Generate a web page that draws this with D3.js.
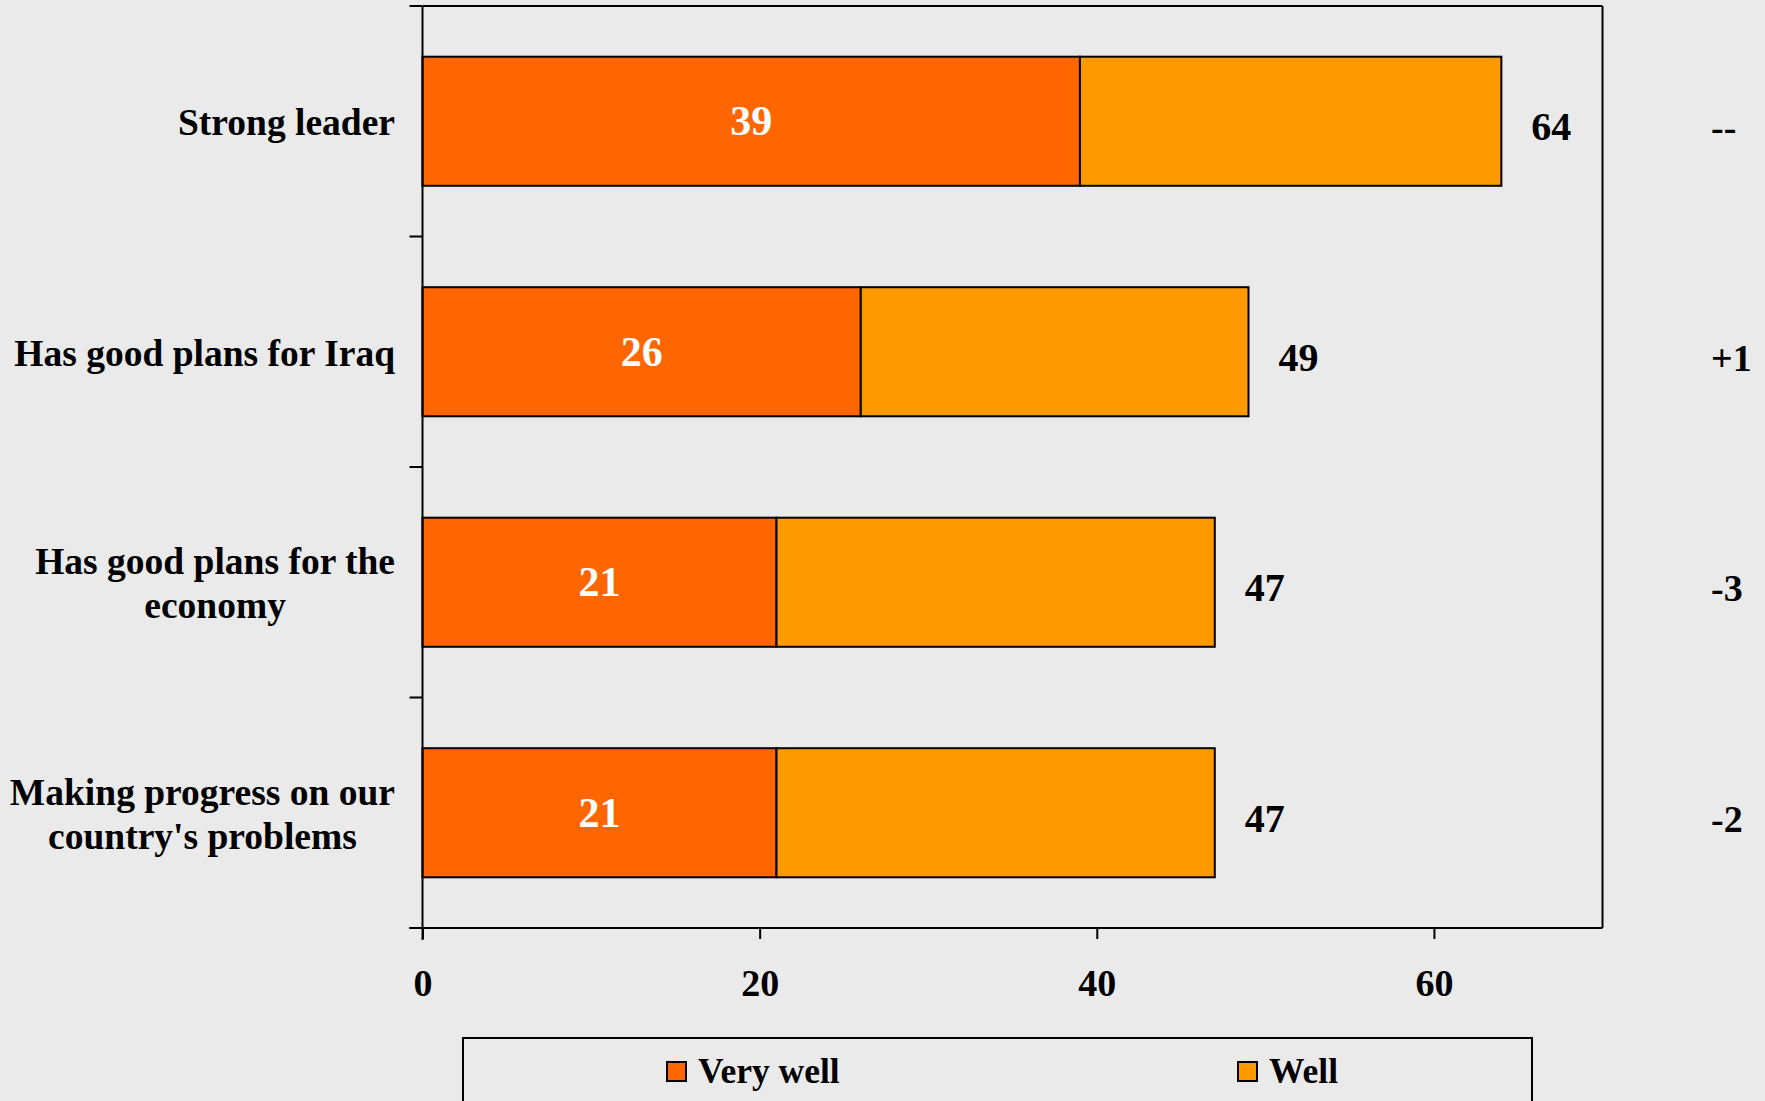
<!DOCTYPE html>
<html>
<head>
<meta charset="utf-8">
<script src="https://cdn.jsdelivr.net/npm/d3@7"></script>
<style>
  html, body { margin: 0; padding: 0; background: #EAEAEA; overflow: hidden; }
  svg { display: block; }
  text { font-family: "Liberation Serif", "Times New Roman", serif; font-weight: bold; }
</style>
</head>
<body>
<svg id="chart" width="1765" height="1101"></svg>
<script>
// ---- data ----
const categories = [
  ["Strong leader"],
  ["Has good plans for Iraq"],
  ["Has good plans for the", "economy"],
  ["Making progress on our", "country's problems"]
];
const veryWell = [39, 26, 21, 21];
const totals = [64, 49, 47, 47];
const changes = ["--", "+1", "-3", "-2"];
const seriesNames = ["Very well", "Well"];
const seriesColors = ["#FF6600", "#FF9900"];
const xTicks = [0, 20, 40, 60];

// ---- layout ----
(function () {
const svg = d3.select("#chart");
const pL = 422.5, pR = 1602.5, pT = 6, pB = 928;

const x = d3.scaleLinear().domain([0, 70]).range([pL, pR]);
const y = d3.scaleBand().domain(d3.range(categories.length)).range([pT, pB]).paddingInner(0.44).paddingOuter(0.22);
const yBand = d3.scaleBand().domain(d3.range(categories.length)).range([pT, pB]);

const g = svg.append("g");

// plot frame (top and right)
g.append("line").attr("x1", pL).attr("x2", pR).attr("y1", pT).attr("y2", pT)
  .attr("stroke", "#000").attr("stroke-width", 2);
g.append("line").attr("x1", pR).attr("x2", pR).attr("y1", pT).attr("y2", pB)
  .attr("stroke", "#000").attr("stroke-width", 2);

// bars
const rows = categories.map((c, i) => ({ i, vw: veryWell[i], total: totals[i] }));
g.selectAll("rect.vw").data(rows).join("rect").attr("class", "vw")
  .attr("x", x(0)).attr("y", d => y(d.i))
  .attr("width", d => x(d.vw) - x(0)).attr("height", y.bandwidth())
  .attr("fill", seriesColors[0]).attr("stroke", "#000").attr("stroke-width", 2);
g.selectAll("rect.w").data(rows).join("rect").attr("class", "w")
  .attr("x", d => x(d.vw)).attr("y", d => y(d.i))
  .attr("width", d => x(d.total) - x(d.vw)).attr("height", y.bandwidth())
  .attr("fill", seriesColors[1]).attr("stroke", "#000").attr("stroke-width", 2);

// inside labels
g.selectAll("text.in").data(rows).join("text").attr("class", "in")
  .attr("x", d => (x(0) + x(d.vw)) / 2)
  .attr("y", d => y(d.i) + y.bandwidth() / 2 + 14)
  .attr("text-anchor", "middle").attr("fill", "#fff").attr("font-size", 42)
  .text(d => d.vw);

// total labels
g.selectAll("text.tot").data(rows).join("text").attr("class", "tot")
  .attr("x", d => x(d.total) + 30)
  .attr("y", d => y(d.i) + y.bandwidth() / 2 + 19)
  .attr("text-anchor", "start").attr("fill", "#000").attr("font-size", 40)
  .text(d => d.total);

// change labels
g.selectAll("text.chg").data(rows).join("text").attr("class", "chg")
  .attr("x", 1711)
  .attr("y", d => y(d.i) + y.bandwidth() / 2 + 19)
  .attr("text-anchor", "start").attr("fill", "#000").attr("font-size", 38)
  .text(d => changes[d.i]);

// y axis (left) with ticks at band boundaries
const yAxisG = g.append("g");
yAxisG.append("line").attr("x1", pL).attr("x2", pL).attr("y1", pT).attr("y2", pB + 12)
  .attr("stroke", "#000").attr("stroke-width", 2);
const boundaries = d3.range(categories.length + 1).map(k => k < categories.length ? yBand(k) : pB);
yAxisG.selectAll("line.tk").data(boundaries).join("line").attr("class", "tk")
  .attr("x1", pL - 13).attr("x2", pL).attr("y1", d => d).attr("y2", d => d)
  .attr("stroke", "#000").attr("stroke-width", 2);

// category labels
const labelRight = 395, lineH = 44;
categories.forEach((lines, i) => {
  const cy = yBand(i) + yBand.bandwidth() / 2;
  const t = g.append("text").attr("font-size", 37.5).attr("fill", "#000").attr("text-anchor", "middle");
  const spans = lines.map((ln, k) => t.append("tspan").text(ln)
    .attr("y", cy + 14 + (k - (lines.length - 1) / 2) * lineH));
  const maxW = d3.max(spans, s => s.node().getComputedTextLength());
  spans.forEach(s => s.attr("x", labelRight - maxW / 2));
});

// x axis
const xAxis = d3.axisBottom(x).tickValues(xTicks).tickSize(11).tickPadding(0).tickFormat(d3.format("d"));
const xg = g.append("g").attr("transform", `translate(0,${pB})`).call(xAxis);
xg.select(".domain").attr("d", `M${pL - 13},0H${pR}`).attr("stroke", "#000").attr("stroke-width", 2);
xg.selectAll(".tick line").attr("stroke", "#000").attr("stroke-width", 2);
xg.selectAll(".tick text").attr("font-size", 38).attr("fill", "#000")
  .attr("font-family", "Liberation Serif, serif").attr("font-weight", "bold")
  .attr("y", 68).attr("dy", null);

// legend
const lg = svg.append("g");
lg.append("rect").attr("x", 463).attr("y", 1038).attr("width", 1532 - 463).attr("height", 120)
  .attr("fill", "none").attr("stroke", "#000").attr("stroke-width", 2);
const legendX = [667, 1238];
seriesNames.forEach((name, i) => {
  lg.append("rect").attr("x", legendX[i]).attr("y", 1062).attr("width", 19).attr("height", 19)
    .attr("fill", seriesColors[i]).attr("stroke", "#000").attr("stroke-width", 2);
  lg.append("text").attr("x", legendX[i] + 31).attr("y", 1083).attr("font-size", 35.5).attr("fill", "#000")
    .text(name);
});
})();
</script>
</body>
</html>
